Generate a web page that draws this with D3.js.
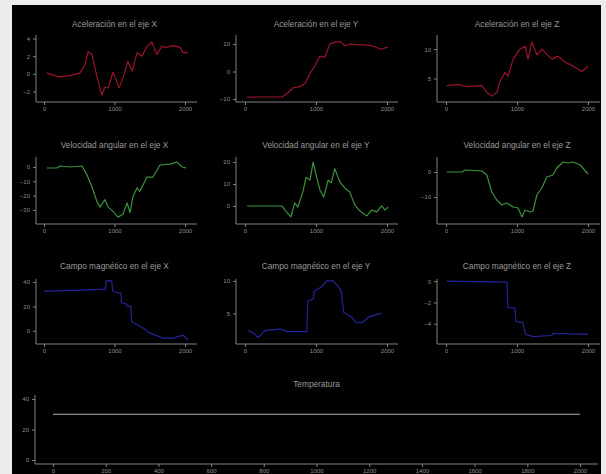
<!DOCTYPE html>
<html><head><meta charset="utf-8">
<script src="https://cdn.jsdelivr.net/npm/d3@7"></script>
<style>html,body{margin:0;padding:0;background:#ececec;overflow:hidden}</style>
</head><body>
<script>
// ---- data ----
const titles = ["Aceleración en el eje X","Aceleración en el eje Y","Aceleración en el eje Z",
  "Velocidad angular en el eje X","Velocidad angular en el eje Y","Velocidad angular en el eje Z",
  "Campo magnético en el eje X","Campo magnético en el eje Y","Campo magnético en el eje Z"];
const tempTitle = "Temperatura";
const xTicksSmall = [0,1000,2000];
const xTicksTemp = [0,200,400,600,800,1000,1200,1400,1600,1800,2000];

const accX = [[40,0.1],[200,-0.35],[370,-0.2],[510,0.1],[580,1],[625,2.5],[680,2.2],[750,-0.3],[820,-2.4],[865,-1.5],[910,-1.6],[980,0.2],[1065,-1.6],[1120,-0.5],[1190,1.4],[1250,0.3],[1320,2.4],[1390,2],[1460,3.1],[1530,3.6],[1600,2.2],[1670,3.1],[1740,3],[1830,3.2],[1930,3],[1970,2.4],[2040,2.4]];
const accY = [[30,-9.3],[530,-9.2],[600,-7.8],[680,-5.9],[775,-5.5],[845,-4.4],[915,-0.7],[985,2.2],[1055,5.6],[1125,5.2],[1195,10],[1265,10.7],[1340,11],[1410,9.3],[1480,10],[1715,9.6],[1800,9.3],[1915,8.1],[2010,8.9]];
const accZ = [[10,3.8],[170,4],[295,3.6],[505,3.8],[575,2.6],[645,2],[715,2.6],[760,4.5],[830,6],[875,5.4],[945,8.3],[1040,10],[1115,10.5],[1155,8.3],[1210,11.2],[1280,9],[1350,10],[1420,9.1],[1490,8.3],[1580,8.8],[1675,7.8],[1790,7.1],[1915,6.2],[2000,7.1]];
const gyrX = [[40,-0.7],[180,-0.7],[230,0.7],[370,0],[540,0.7],[610,-5.5],[680,-13.8],[750,-24],[795,-28],[865,-22.8],[910,-28],[980,-31],[1050,-35],[1120,-33],[1180,-25],[1220,-32],[1260,-21],[1320,-14.5],[1360,-17],[1460,-7],[1545,-7],[1645,1.4],[1790,2],[1885,3.4],[1960,0],[2015,-0.7]];
const gyrY = [[30,0],[520,0],[575,-2.3],[645,-5],[700,1.4],[745,-0.5],[815,6.4],[860,13],[915,11.8],[960,20],[1010,13],[1055,7.3],[1110,4],[1170,11.8],[1215,10.5],[1265,17],[1335,11],[1405,8.2],[1475,6.4],[1545,0.5],[1620,-2.3],[1715,-4.5],[1785,-1.8],[1855,-2.7],[1925,0],[1970,-1.8],[2015,-0.5]];
const gyrZ = [[10,0],[225,0],[265,0.8],[505,0.4],[575,-1.2],[645,-8],[715,-11.2],[785,-13.2],[855,-12.4],[945,-14],[1015,-14.4],[1070,-18],[1115,-15.2],[1185,-16],[1225,-15.6],[1280,-9.2],[1350,-6.4],[1420,-2],[1505,-1.2],[1560,1.6],[1650,4],[1720,3.6],[1790,4],[1890,2.8],[2000,-0.8]];
const magX = [[0,32.5],[330,33],[800,34],[870,34],[880,41],[960,41],[975,32.5],[1050,31],[1090,31],[1100,23],[1170,22],[1180,20],[1230,20],[1245,7.5],[1320,5],[1400,2.5],[1500,-1.7],[1600,-4],[1690,-6],[1830,-6],[1970,-3.5],[2040,-7.5]];
const magY = [[40,2.4],[115,2],[185,1.3],[285,2.4],[495,2.6],[590,2.2],[870,2.2],[885,6.9],[960,7.2],[975,8.4],[1080,9.1],[1150,10],[1240,10],[1310,9.2],[1355,8.4],[1390,5.2],[1495,4.5],[1565,3.6],[1655,3.6],[1750,4.5],[1920,5]];
const magZ = [[10,0],[860,-0.1],[870,-2.5],[970,-2.5],[985,-3.8],[1080,-3.9],[1120,-5],[1225,-5.2],[1490,-5.1],[1505,-4.9],[2000,-5]];
const temp = [[0,30],[2000,30]];

const series = [accX,accY,accZ,gyrX,gyrY,gyrZ,magX,magY,magZ];
const yTicks = [[4,2,0,-2],[10,0,-10],[10,5],[0,-10,-20,-30],[20,10,0],[0,-10],[40,20,0],[10,5],[0,-2,-4]];
const yTicksTemp = [40,20,0];
const yDomains = [[-3.2,4.4],[-11.1,13.3],[1.0,12.4],[-39.8,7],[-8.2,22.3],[-20.8,6],[-10.8,42.5],[0.3,10.3],[-5.9,0.2]];
const yDomainTemp = [-2.6,42.6];

// ---- layout ----
const W=606,H=474;
const colors = ["#9a1428","#3b923b","#24249a"];
const cols = [{ax:36,x0:44,x1:185,xe:197},{ax:236,x0:245,x1:387,xe:398},{ax:437,x0:446,x1:588,xe:600}];
const rows = [{top:35,bot:102,ty:27},{top:157,bot:224,ty:148},{top:279,bot:344,ty:269}];

const svg = d3.select("body").append("svg").attr("width",W).attr("height",H);
svg.append("rect").attr("x",0).attr("y",0).attr("width",W).attr("height",H).attr("fill","#ececec");
svg.append("rect").attr("x",12).attr("y",5).attr("width",589).attr("height",469).attr("fill","#000");

const axisCol="#808080", txtCol="#8e8e8e";
const tickFont = "Liberation Sans, Arial, sans-serif";

function panel(p){
  const g = svg.append("g");
  const x = d3.scaleLinear().domain([0,2000]).range([p.x0,p.x1]);
  const y = d3.scaleLinear().domain(p.yd).range([p.bot,p.top]);
  g.append("line").attr("x1",p.ax).attr("x2",p.xe).attr("y1",p.bot).attr("y2",p.bot).attr("stroke",axisCol).attr("stroke-width",1);
  g.append("line").attr("x1",p.ax).attr("x2",p.ax).attr("y1",p.top).attr("y2",p.bot).attr("stroke",axisCol).attr("stroke-width",1);
  const xa = g.append("g").attr("transform",`translate(0,${p.bot})`)
    .call(d3.axisBottom(x).tickValues(p.xt).tickSize(3).tickPadding(2).tickFormat(d3.format("d")));
  const ya = g.append("g").attr("transform",`translate(${p.ax},0)`)
    .call(d3.axisLeft(y).tickValues(p.yt).tickSize(3).tickPadding(3).tickFormat(d3.format("d")));
  [xa,ya].forEach(a=>{
    a.select(".domain").remove();
    a.selectAll("line").attr("stroke",axisCol);
    a.selectAll("text").attr("fill",txtCol).style("font-family",tickFont).style("font-size","6px");
  });
  g.append("text").attr("x",(p.x0+p.x1)/2).attr("y",p.ty).attr("text-anchor","middle")
    .attr("fill","#9a9a9a").style("font-family",tickFont).style("font-size","8.3px").text(p.title);
  const line = d3.line().x(d=>x(d[0])).y(d=>y(d[1]));
  g.append("path").datum(p.data).attr("d",line).attr("fill","none").attr("stroke",p.color)
    .attr("stroke-width",1.2).attr("stroke-linejoin","round");
}

for(let i=0;i<9;i++){
  const c = cols[i%3], r = rows[Math.floor(i/3)];
  panel({ax:c.ax,x0:c.x0,x1:c.x1,xe:c.xe,top:r.top,bot:r.bot,ty:r.ty,
    yd:yDomains[i],yt:yTicks[i],xt:xTicksSmall,title:titles[i],data:series[i],color:colors[Math.floor(i/3)]});
}
panel({ax:35,x0:53,x1:580,xe:598,top:395,bot:464,ty:387,yd:yDomainTemp,yt:yTicksTemp,xt:xTicksTemp,
  title:tempTitle,data:temp,color:"#b0b0b0"});
</script>
</body></html>
